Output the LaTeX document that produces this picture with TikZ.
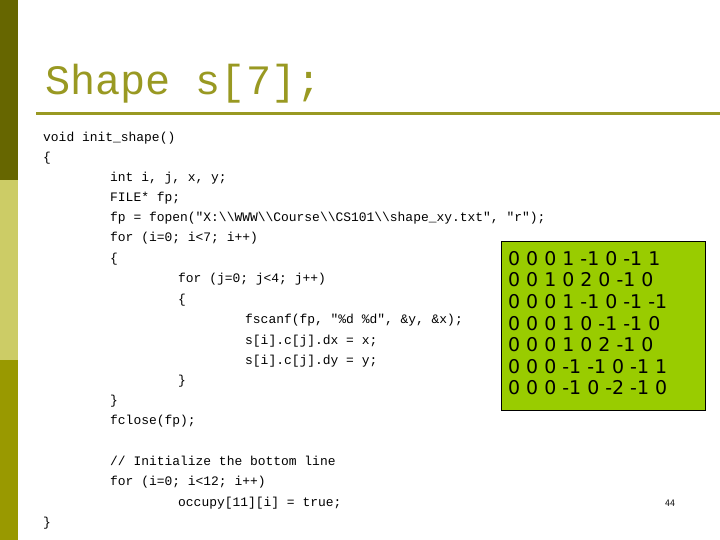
\documentclass[tikz,border=0pt]{standalone}
\usepackage{fontspec}
\setmonofont{Liberation Mono}
\newfontfamily\boxfont{DejaVu Sans}
\definecolor{olivedark}{HTML}{666600}
\definecolor{olivelight}{HTML}{CCCC66}
\definecolor{olivemid}{HTML}{999900}
\definecolor{titlecol}{HTML}{999922}
\definecolor{boxgreen}{HTML}{99CC00}
\begin{document}
\begin{tikzpicture}[x=1bp,y=-1bp,
  code/.style={anchor=base west,inner sep=0pt,font=\ttfamily\fontsize{13}{15}\selectfont},
  nums/.style={anchor=base west,inner sep=0pt,font=\boxfont\fontsize{19}{21}\selectfont}]
\useasboundingbox (0,0) rectangle (720,540);
\fill[white] (0,0) rectangle (720,540);
\fill[olivedark] (0,0) rectangle (18,180);
\fill[olivelight] (0,180) rectangle (18,360);
\fill[olivemid] (0,360) rectangle (18,540);
\node[anchor=base west,inner sep=0pt,text=titlecol,font=\ttfamily\fontsize{42}{44}\selectfont] (title) at (45,95) {Shape s[7];};
\draw[titlecol,line width=3bp] (36,114) -- (720,114);
\node[code] (l1) at (43,142) {void init\_shape()};
\node[code] (l2) at (43,162) {\{};
\node[code] (l3) at (110,182) {int i, j, x, y;};
\node[code] (l4) at (110,202) {FILE* fp;};
\node[code] (l5) at (110,222) {fp = fopen("X:\textbackslash\textbackslash WWW\textbackslash\textbackslash Course\textbackslash\textbackslash CS101\textbackslash\textbackslash shape\_xy.txt", "r");};
\node[code] (l6) at (110,242) {for (i=0; i<7; i++)};
\node[code] (l7) at (110,263) {\{};
\node[code] (l8) at (178,283) {for (j=0; j<4; j++)};
\node[code] (l9) at (178,303) {\{};
\node[code] (l10) at (245,323) {fscanf(fp, "\%d \%d", \&y, \&x);};
\node[code] (l11) at (245,344) {s[i].c[j].dx = x;};
\node[code] (l12) at (245,364) {s[i].c[j].dy = y;};
\node[code] (l13) at (178,384) {\}};
\node[code] (l14) at (110,404) {\}};
\node[code] (l15) at (110,424) {fclose(fp);};
\node[code] (l16) at (110,465) {// Initialize the bottom line};
\node[code] (l17) at (110,485) {for (i=0; i<12; i++)};
\node[code] (l18) at (178,506) {occupy[11][i] = true;};
\node[code] (l19) at (43,526) {\}};
\draw[fill=boxgreen,draw=black,line width=0.8bp] (501,241) rectangle (705,410);
\node[nums] (n1) at (508,266) {0 0 0 1 -1 0 -1 1};
\node[nums] (n2) at (508,287) {0 0 1 0 2 0 -1 0};
\node[nums] (n3) at (508,308) {0 0 0 1 -1 0 -1 -1};
\node[nums] (n4) at (508,330) {0 0 0 1 0 -1 -1 0};
\node[nums] (n5) at (508,351) {0 0 0 1 0 2 -1 0};
\node[nums] (n6) at (508,373) {0 0 0 -1 -1 0 -1 1};
\node[nums] (n7) at (508,394) {0 0 0 -1 0 -2 -1 0};
\node[anchor=base west,inner sep=0pt,font=\sffamily\fontsize{10}{12}\selectfont] (pg) at (665,506) {44};
\end{tikzpicture}
\end{document}
